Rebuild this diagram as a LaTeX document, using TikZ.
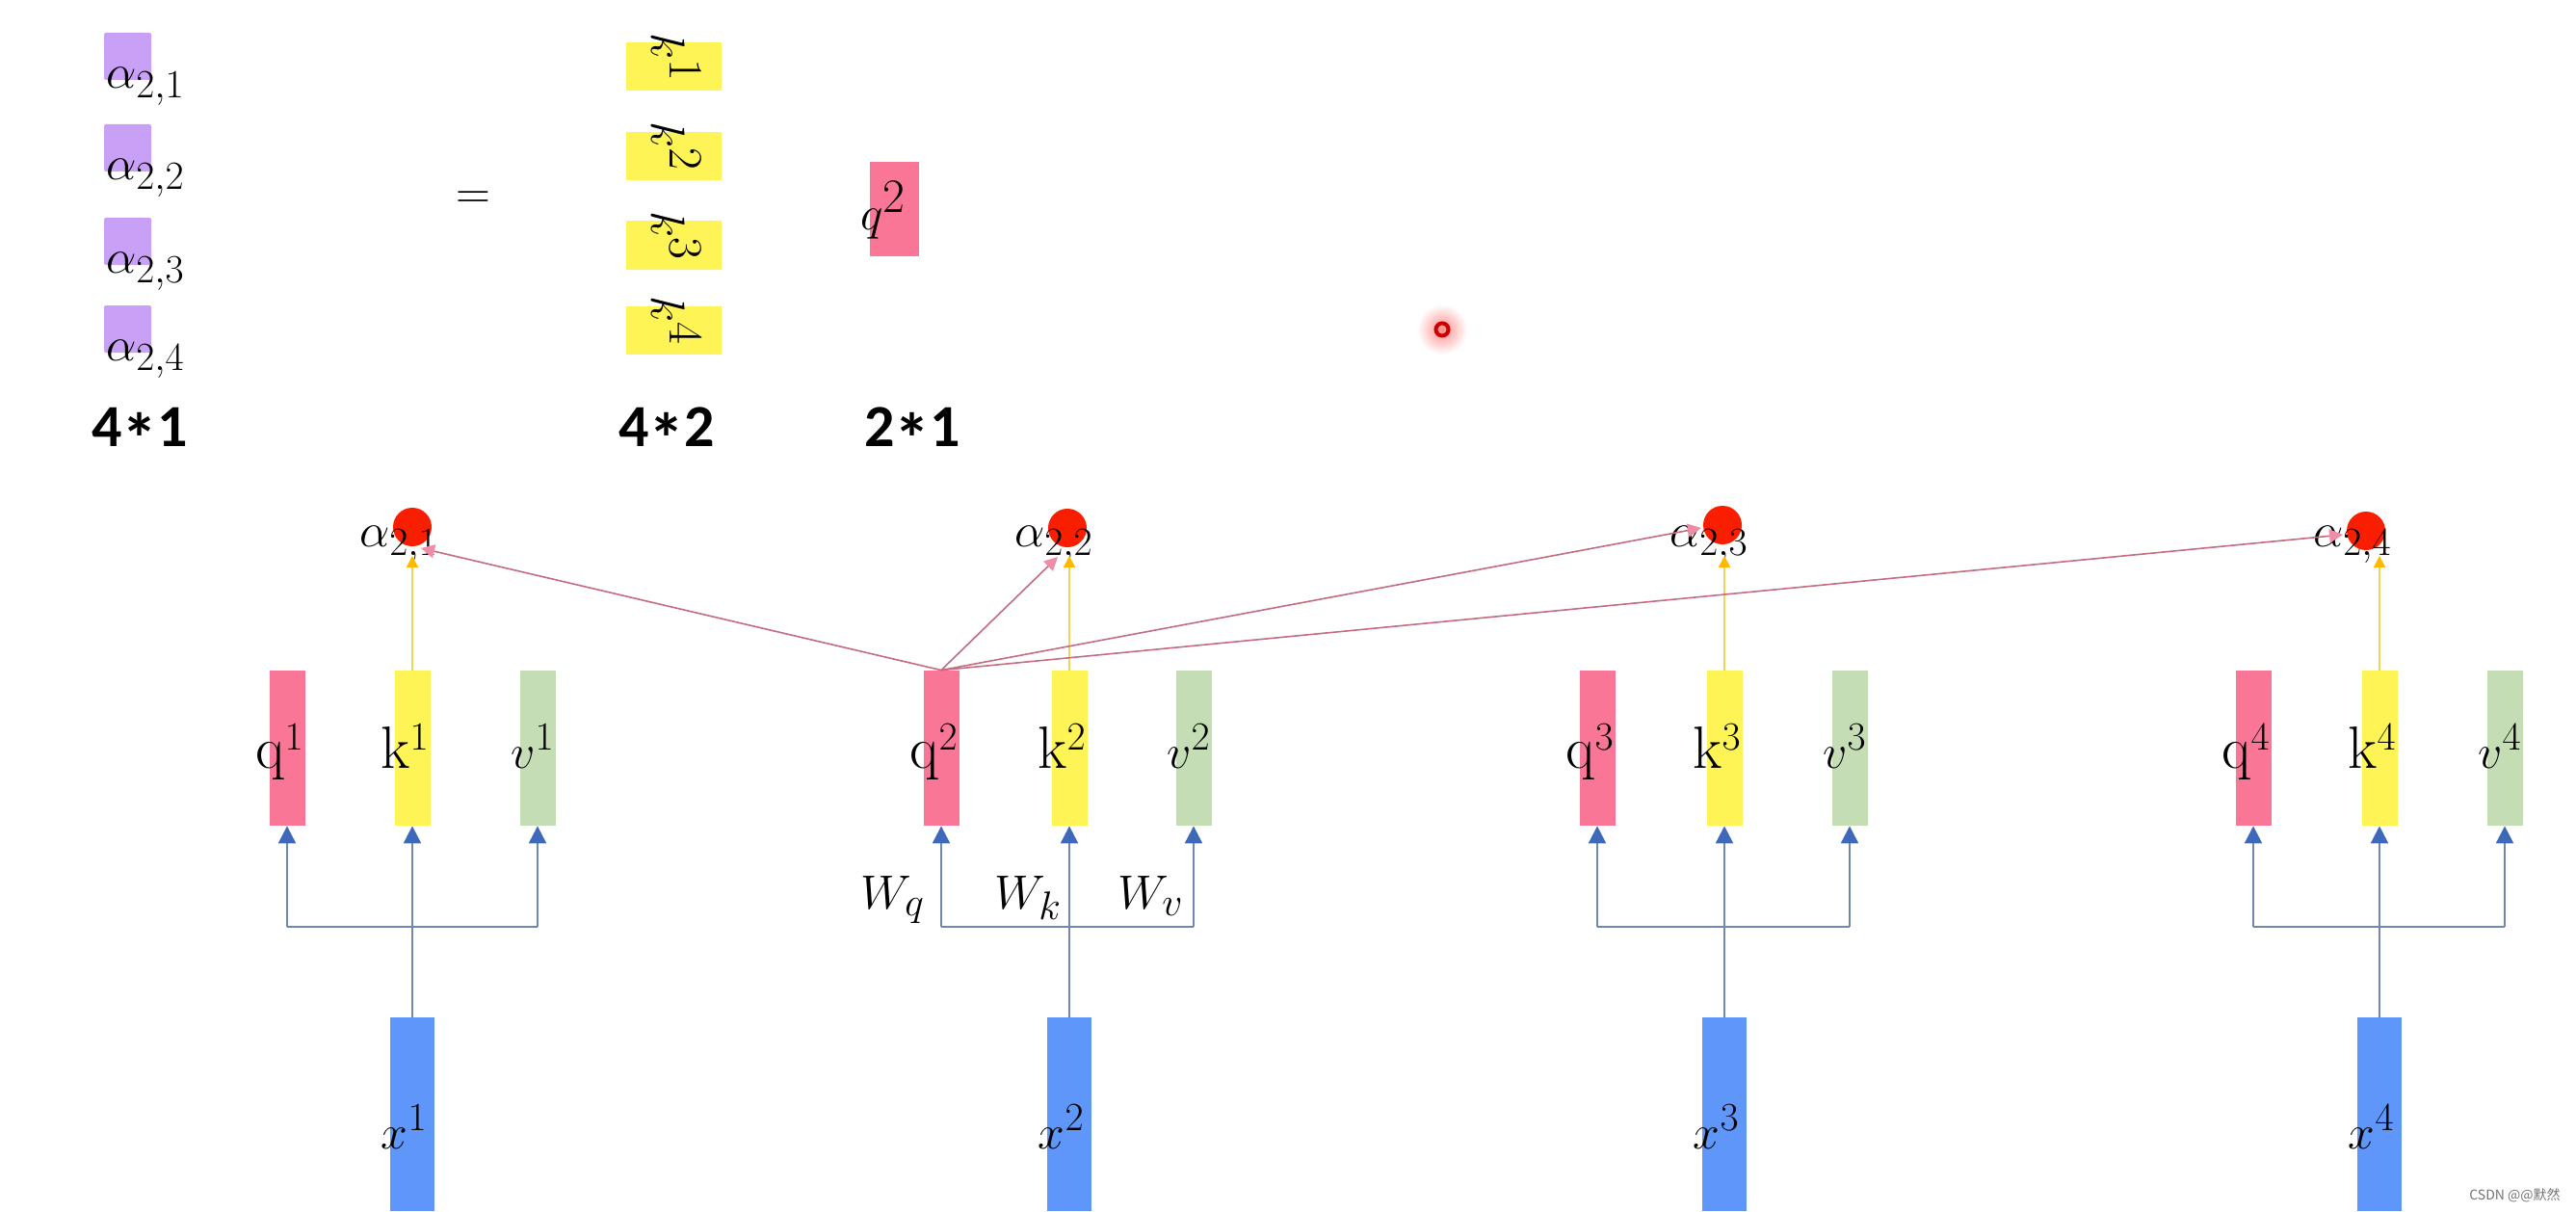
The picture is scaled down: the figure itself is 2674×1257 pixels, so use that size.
\documentclass[tikz,border=0pt]{standalone}
\usepackage{fontspec}
\usepackage{graphicx}
\newfontfamily\cjkfont{Noto Sans CJK SC}
\newfontfamily\dimfont{Carlito}
\usetikzlibrary{arrows.meta}
\definecolor{qpink}{RGB}{250,118,150}
\definecolor{kyellow}{RGB}{255,244,85}
\definecolor{vgreen}{RGB}{197,221,180}
\definecolor{xblue}{RGB}{95,150,250}
\definecolor{apurple}{RGB}{200,160,245}
\definecolor{dotred}{RGB}{250,30,0}
\definecolor{arrline}{RGB}{112,136,176}
\definecolor{arrhead}{RGB}{62,104,186}
\definecolor{pinkline}{RGB}{196,108,128}
\definecolor{pinkhead}{RGB}{240,140,165}
\definecolor{yline}{RGB}{238,214,90}
\definecolor{orhead}{RGB}{255,185,0}
\newcommand{\bigast}{\raisebox{-0.3em}{\scalebox{1.2}{*}}}
\begin{document}
\begin{tikzpicture}[x=0.5pt,y=-0.5pt,
  vec/.style={rectangle, draw=none, inner sep=0, minimum width=18.5pt, minimum height=80.5pt},
  qvec/.style={vec, fill=qpink},
  kvec/.style={vec, fill=kyellow},
  vvec/.style={vec, fill=vgreen},
  xvec/.style={rectangle, draw=none, inner sep=0, fill=xblue, minimum width=23pt, minimum height=100.5pt},
  abox/.style={rectangle, rounded corners=1pt, fill=apurple, inner sep=0, minimum size=24.5pt},
  kmat/.style={rectangle, fill=kyellow, inner sep=0, minimum width=49.5pt, minimum height=25pt},
  dot/.style={circle, fill=dotred, inner sep=0, minimum size=20pt},
  blab/.style={inner sep=0, font=\fontsize{31}{36}\selectfont},
  alab/.style={inner sep=0, font=\fontsize{30}{35}\selectfont},
  toplab/.style={inner sep=0, font=\fontsize{31}{36}\selectfont},
  tlab/.style={inner sep=0, font=\fontsize{33}{38}\selectfont},
  dimlab/.style={inner sep=0, font=\dimfont\bfseries\fontsize{31}{36}\selectfont},
  bline/.style={draw=arrline, line width=1.1pt},
  barrow/.style={bline, -{Triangle[width=9pt,length=9pt,fill=arrhead,color=arrhead]}},
  yarrow/.style={draw=yline, line width=0.8pt, -{Triangle[width=6pt,length=6pt,fill=orhead,color=orhead]}},
  parrow/.style={draw=pinkline, line width=0.8pt, -{Triangle[width=7pt,length=7pt,fill=pinkhead,color=pinkhead]}}
]
\useasboundingbox (0,0) rectangle (2674,1257);
\fill[white] (0,0) rectangle (2674,1257);

% ---------- top matrix ----------
\foreach \i/\cy in {1/58.5,2/153.5,3/250.5,4/341.5}{
  \node[abox] (pa\i) at (132.5,\cy) {};
  \node[toplab, anchor=base west] (ta\i) at (110,\cy+33) {$\alpha_{2,\i}$};
}
\node[inner sep=0, font=\fontsize{38}{42}\selectfont] (eq) at (491,208) {$=$};
\foreach \i/\cy in {1/69.5,2/162,3/254.5,4/342.5}{
  \node[kmat] (km\i) at (699.5,\cy) {};
  \node[tlab, rotate=-90] (kt\i) at (702,\cy-10) {$k^{\i}$};
}
\node[rectangle, fill=qpink, inner sep=0, minimum width=25.5pt, minimum height=49pt] (qm) at (928.5,217) {};
\node[tlab] (qmt) at (917,218) {$q^{2}$};
\node[dimlab, anchor=base] (dim1) at (145,463) {4\bigast1};
\node[dimlab, anchor=base] (dim2) at (692,463) {4\bigast2};
\node[dimlab, anchor=base] (dim3) at (947,463) {2\bigast1};

% cursor mark
\shade[inner color=red!45, outer color=white] (1497,342) circle (26);
\draw[red!80!black, line width=2pt] (1497,342) circle (6.5);

% ---------- lower network ----------
\foreach \i/\qx/\kx/\vx/\dx/\dy in {1/298/428/558/428/547, 2/977/1110/1239/1108/548, 3/1658/1790/1920/1788/545, 4/2339/2470/2600/2456/551}{
  \node[qvec] (q\i) at (\qx,776.5) {};
  \node[kvec] (k\i) at (\kx,776.5) {};
  \node[vvec] (v\i) at (\vx,776.5) {};
  \node[xvec] (x\i) at (\kx,1156.5) {};
  \coordinate (jq\i) at (\qx,962);
  \coordinate (jv\i) at (\vx,962);
  \draw[bline] (jq\i) -- (jv\i);
  \draw[barrow] (jq\i) -- (q\i.south);
  \draw[barrow] (jv\i) -- (v\i.south);
  \draw[barrow] (x\i.north) -- (k\i.south);
  \node[dot] (d\i) at (\dx,\dy) {};
  \node[alab, anchor=base west] (al\i) at (\dx-55,567) {$\alpha_{2,\i}$};
  \coordinate (yt\i) at (\kx,577);
  \draw[yarrow] (k\i.north) -- (yt\i);
  \node[blab, anchor=base east] (lq\i) at (\qx+18,797) {$\mathrm{q}^{\i}$};
  \node[blab, anchor=base east] (lk\i) at (\kx+18,797) {$\mathrm{k}^{\i}$};
  \node[blab, anchor=base east] (lv\i) at (\vx+18,797) {$v^{\i}$};
  \node[blab, anchor=base east] (lx\i) at (\kx+16,1192) {$x^{\i}$};
}
\coordinate (pt1) at (437,569);
\coordinate (pt2) at (1098,578);
\coordinate (pt3) at (1766,548);
\coordinate (pt4) at (2432,555);
\foreach \i in {1,2,3,4}{
  \draw[parrow] (q2.north) -- (pt\i);
}
\node[blab, anchor=base west] (wq) at (893,943) {$W_q$};
\node[blab, anchor=base west] (wk) at (1032,943) {$W_k$};
\node[blab, anchor=base west] (wv) at (1160,943) {$W_v$};

\node[anchor=base east, inner sep=0, text=black!55, font=\cjkfont\fontsize{7}{8}\selectfont] (wm) at (2658,1245) {CSDN @@默然};
\end{tikzpicture}
\end{document}
